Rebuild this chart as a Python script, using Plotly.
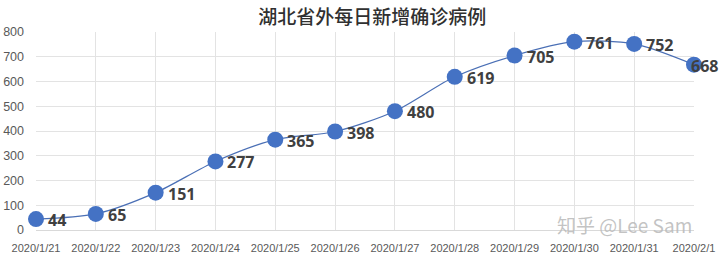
import plotly.graph_objects as go

dates = ["2020/1/21", "2020/1/22", "2020/1/23", "2020/1/24", "2020/1/25", "2020/1/26",
         "2020/1/27", "2020/1/28", "2020/1/29", "2020/1/30", "2020/1/31", "2020/2/1"]
cases = [44, 65, 151, 277, 365, 398, 480, 619, 705, 761, 752, 668]
y_ticks = [0, 100, 200, 300, 400, 500, 600, 700, 800]
title_text = "湖北省外每日新增确诊病例"
watermark = "知乎 @Lee Sam"

xs = list(range(len(dates)))

fig = go.Figure()
fig.add_trace(go.Scatter(
    x=xs, y=cases, mode="lines+markers",
    line=dict(color="#4a6fb5", width=1.2, shape="spline", smoothing=0.8),
    marker=dict(size=16, color="#4472C4", line=dict(width=0)),
    cliponaxis=False,
    hoverinfo="skip", showlegend=False,
))

annotations = []
for i, (x, v) in enumerate(zip(xs, cases)):
    last = i == len(xs) - 1
    annotations.append(dict(
        x=x, y=v, text=str(v), showarrow=False,
        xanchor="left", yanchor="middle",
        xshift=-5 if last else 10, yshift=-1,
        font=dict(family="Open Sans, Liberation Sans, sans-serif", size=16, color="#404040", weight="bold"),
    ))
annotations.append(dict(
    xref="paper", yref="paper", x=1.0, y=0.03, text=watermark, showarrow=False,
    xanchor="right", yanchor="middle",
    font=dict(family="Noto Sans CJK SC, sans-serif", size=19, color="rgba(185,185,185,0.85)"),
))

fig.update_layout(
    width=720, height=253,
    margin=dict(l=36, r=26, t=32, b=23),
    paper_bgcolor="white", plot_bgcolor="white",
    title=dict(text=title_text, x=0.517, xanchor="center", y=0.93, yanchor="middle",
               font=dict(family="Noto Sans CJK SC, sans-serif", size=19, color="#303030", weight=500)),
    xaxis=dict(
        range=[0, len(xs) - 1], tickmode="array", tickvals=xs, ticktext=dates,
        showgrid=True, gridcolor="#e3e3e3", gridwidth=1,
        showline=True, linecolor="#d9d9d9", zeroline=False,
        ticks="outside", ticklen=8, tickcolor="rgba(0,0,0,0)",
        tickfont=dict(family="Liberation Sans, sans-serif", size=11, color="#595959"),
        automargin=False, fixedrange=True,
    ),
    yaxis=dict(
        range=[0, 800], tickmode="array", tickvals=y_ticks,
        showgrid=True, gridcolor="#e3e3e3", gridwidth=1,
        zeroline=False, showline=False, ticks="",
        ticklabelstandoff=11,
        tickfont=dict(family="Liberation Sans, sans-serif", size=12.5, color="#595959"),
        automargin=False, fixedrange=True,
    ),
    annotations=annotations,
)

fig.write_html("out.html", config={"displayModeBar": False})
